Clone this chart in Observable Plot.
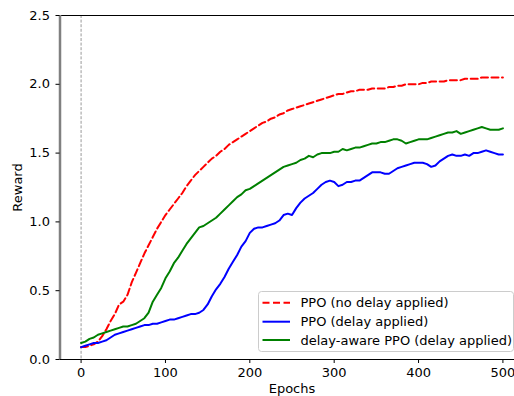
<!DOCTYPE html>
<html>
<head>
<meta charset="utf-8">
<script src="https://cdn.jsdelivr.net/npm/d3@7"></script>
<script src="https://cdn.jsdelivr.net/npm/@observablehq/plot@0.6"></script>
<style>
  html, body { margin: 0; padding: 0; background: #fff; }
  #wrap { position: relative; width: 514px; height: 396px; overflow: hidden; font-family: "DejaVu Sans", sans-serif; }
  #legend { position: absolute; left: 258px; top: 291px; }
</style>
</head>
<body>
<div id="wrap"></div>
<script>
const epochs = d3.range(0, 501, 5);
const seriesNames = ["PPO (no delay applied)", "PPO (delay applied)", "delay-aware PPO (delay applied)"];
const seriesColors = ["#ff0000", "#0000ff", "#008000"];
const xTicks = [0, 100, 200, 300, 400, 500];
const yTicks = [0, 0.5, 1.0, 1.5, 2.0, 2.5];

const ppoNoDelay = [0.09,0.09,0.10,0.11,0.13,0.17,0.22,0.28,0.33,0.40,0.42,0.47,0.56,0.63,0.70,0.77,0.83,0.89,0.95,1.00,
  1.05,1.09,1.13,1.17,1.21,1.26,1.30,1.34,1.37,1.40,1.43,1.46,1.48,1.51,1.53,1.56,1.58,1.60,1.62,1.64,
  1.66,1.68,1.70,1.72,1.73,1.75,1.76,1.78,1.79,1.81,1.82,1.83,1.84,1.85,1.86,1.87,1.88,1.89,1.90,1.91,
  1.92,1.93,1.93,1.94,1.95,1.95,1.96,1.96,1.96,1.97,1.97,1.97,1.97,1.98,1.98,1.99,1.99,2.00,2.00,2.00,
  2.00,2.01,2.01,2.02,2.02,2.02,2.02,2.03,2.03,2.03,2.03,2.04,2.04,2.04,2.04,2.05,2.05,2.05,2.05,2.05,2.05];

const ppoDelay = [0.09,0.10,0.11,0.12,0.12,0.13,0.14,0.16,0.18,0.19,0.20,0.21,0.22,0.23,0.24,0.25,0.25,0.26,0.26,0.27,
  0.28,0.29,0.29,0.30,0.31,0.32,0.33,0.33,0.34,0.36,0.40,0.46,0.51,0.55,0.60,0.66,0.71,0.76,0.82,0.86,
  0.92,0.95,0.96,0.96,0.97,0.98,0.99,1.01,1.05,1.06,1.05,1.10,1.14,1.17,1.19,1.21,1.24,1.27,1.29,1.30,
  1.29,1.26,1.27,1.29,1.29,1.30,1.30,1.32,1.34,1.36,1.36,1.36,1.35,1.35,1.37,1.39,1.40,1.41,1.42,1.43,
  1.43,1.43,1.42,1.40,1.41,1.44,1.46,1.48,1.49,1.48,1.48,1.49,1.48,1.50,1.50,1.51,1.52,1.51,1.50,1.49,1.49];

const delayAwarePPO = [0.12,0.13,0.15,0.16,0.18,0.19,0.20,0.21,0.22,0.23,0.24,0.24,0.25,0.26,0.28,0.30,0.34,0.42,0.47,0.52,
  0.59,0.64,0.70,0.74,0.79,0.84,0.88,0.92,0.96,0.97,0.99,1.01,1.03,1.06,1.09,1.12,1.15,1.18,1.20,1.23,
  1.24,1.26,1.28,1.30,1.32,1.34,1.36,1.38,1.40,1.41,1.42,1.43,1.45,1.46,1.48,1.47,1.49,1.50,1.50,1.50,
  1.51,1.51,1.53,1.52,1.53,1.54,1.54,1.55,1.56,1.57,1.57,1.58,1.58,1.59,1.60,1.60,1.59,1.57,1.58,1.59,
  1.60,1.60,1.60,1.61,1.62,1.63,1.64,1.65,1.65,1.66,1.64,1.65,1.66,1.67,1.68,1.69,1.68,1.67,1.67,1.67,1.68];

const allSeries = [ppoNoDelay, ppoDelay, delayAwarePPO];
const rows = [];
allSeries.forEach((vals, s) => vals.forEach((v, i) => rows.push({epoch: epochs[i], reward: v, series: seriesNames[s]})));
const bySeries = name => rows.filter(r => r.series === name);

const chart = Plot.plot({
  width: 514,
  height: 396,
  marginLeft: 59.5,
  marginRight: 0,
  marginTop: 15,
  marginBottom: 37,
  style: {fontFamily: "DejaVu Sans, sans-serif", fontSize: "13px", color: "#000", background: "#fff"},
  x: {domain: [-25, 525], range: [59.5, 523.5]},
  y: {domain: [0, 2.5]},
  marks: [
    Plot.ruleX([0], {stroke: "#999", strokeWidth: 1, strokeDasharray: "3,1.6"}),
    Plot.line(bySeries(seriesNames[0]), {x: "epoch", y: "reward", stroke: seriesColors[0], strokeWidth: 2, strokeDasharray: "7,3.5"}),
    Plot.line(bySeries(seriesNames[1]), {x: "epoch", y: "reward", stroke: seriesColors[1], strokeWidth: 2}),
    Plot.line(bySeries(seriesNames[2]), {x: "epoch", y: "reward", stroke: seriesColors[2], strokeWidth: 2}),
    Plot.ruleY([2.5], {stroke: "#000", strokeWidth: 1.2}),
    Plot.ruleY([0], {stroke: "#000", strokeWidth: 1.2}),
    Plot.ruleX([-25], {stroke: "#808080", strokeWidth: 2.5}),
    Plot.axisY({ticks: yTicks, tickFormat: d => d.toFixed(1), tickSize: 4, tickPadding: 6, label: null}),
    Plot.axisX({ticks: xTicks, tickFormat: d => String(d), tickSize: 4, tickPadding: 4, label: null}),
    Plot.text(["Reward"], {x: [-25], y: [1.25], rotate: -90, dx: -42, fontSize: 13, fill: "#000"}),
    Plot.text(["Epochs"], {x: [250], y: [0], dy: 29, fontSize: 13, fill: "#000"})
  ]
});
const wrap = document.getElementById("wrap");
wrap.appendChild(chart);

// Legend overlay
const legW = 256, legH = 61;
const ns = "http://www.w3.org/2000/svg";
const leg = document.createElementNS(ns, "svg");
leg.setAttribute("id", "legend");
leg.setAttribute("width", legW);
leg.setAttribute("height", legH);
let html = `<rect x="0.5" y="0.5" width="${legW - 1}" height="${legH - 1}" rx="3" ry="3" fill="rgba(255,255,255,0.85)" stroke="#cccccc" stroke-width="1"/>`;
const rowY = [11.7, 30.7, 49];
seriesNames.forEach((name, i) => {
  const dash = i === 0 ? ` stroke-dasharray="7,3.5"` : "";
  html += `<line x1="4.5" x2="32" y1="${rowY[i]}" y2="${rowY[i]}" stroke="${seriesColors[i]}" stroke-width="2"${dash}/>`;
  html += `<text x="42.5" y="${rowY[i]}" dy="0.35em" font-family="DejaVu Sans, sans-serif" font-size="13" fill="#000">${name}</text>`;
});
leg.innerHTML = html;
wrap.appendChild(leg);
</script>
</body>
</html>
